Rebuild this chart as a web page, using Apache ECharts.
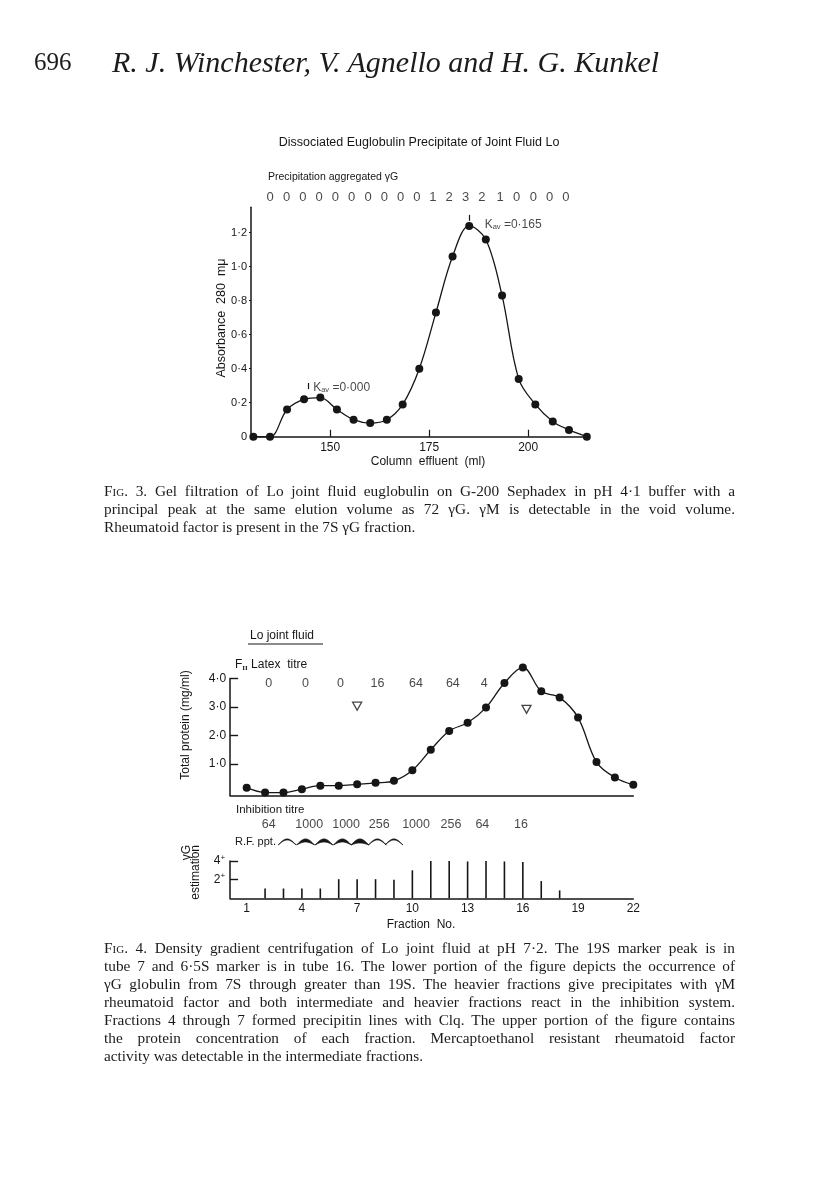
<!DOCTYPE html>
<html>
<head>
<meta charset="utf-8">
<script src="https://cdn.jsdelivr.net/npm/echarts@6.0.0/dist/echarts.min.js"></script>
<style>
  body { margin: 0; background: #fff; }
  #page { position: relative; width: 816px; height: 1190px; overflow: hidden; }
  #chart { position: absolute; left: 0; top: 0; width: 816px; height: 1190px; }
  .txt { position: absolute; font-family: "Liberation Serif", serif; color: #1b1b1b; }
  .cap { left: 104px; width: 631px; font-size: 15.3px; line-height: 18px; }
  .cap div { text-align: justify; text-align-last: justify; }
  .cap div.last { text-align-last: left; }
  .sc { font-variant: small-caps; }
</style>
</head>
<body>
<div id="page">
  <div id="chart"></div>
  <div class="txt" style="left:34px; top:48px; font-size:25px;">696</div>
  <div class="txt" style="left:112px; top:45px; font-size:30px; font-style:italic;">R. J. Winchester, V. Agnello and H. G. Kunkel</div>
  <div class="txt cap" style="top:482px;">
    <div><span class="sc">Fig</span>. 3. Gel filtration of Lo joint fluid euglobulin on G-200 Sephadex in pH 4·1 buffer with a</div>
    <div>principal peak at the same elution volume as 72 γG. γM is detectable in the void volume.</div>
    <div class="last">Rheumatoid factor is present in the 7S γG fraction.</div>
  </div>
  <div class="txt cap" style="top:939px;">
    <div><span class="sc">Fig</span>. 4. Density gradient centrifugation of Lo joint fluid at pH 7·2. The 19S marker peak is in</div>
    <div>tube 7 and 6·5S marker is in tube 16. The lower portion of the figure depicts the occurrence of</div>
    <div>γG globulin from 7S through greater than 19S. The heavier fractions give precipitates with γM</div>
    <div>rheumatoid factor and both intermediate and heavier fractions react in the inhibition system.</div>
    <div>Fractions 4 through 7 formed precipitin lines with Clq. The upper portion of the figure contains</div>
    <div>the protein concentration of each fraction. Mercaptoethanol resistant rheumatoid factor</div>
    <div class="last">activity was detectable in the intermediate fractions.</div>
  </div>
</div>
<script>
// Fig. 3 - gel filtration
const effluentMl = [130.6, 134.8, 139.1, 143.4, 147.5, 151.7, 155.9, 160.1, 164.3, 168.3, 172.5,
  176.7, 180.9, 185.1, 189.3, 193.4, 197.6, 201.8, 206.2, 210.3, 214.8];
const absorbance = [0, 0, 0.16, 0.22, 0.23, 0.16, 0.10, 0.08, 0.10, 0.19, 0.40,
  0.73, 1.06, 1.24, 1.16, 0.83, 0.34, 0.19, 0.09, 0.04, 0];
const precipMl = [134.8, 139.0, 143.1, 147.2, 151.3, 155.4, 159.6, 163.7, 167.8, 171.9,
  175.9, 180.0, 184.2, 188.3, 192.9, 197.1, 201.3, 205.4, 209.5];
const precipLabels = ['0', '0', '0', '0', '0', '0', '0', '0', '0', '0', '1', '2', '3', '2', '1', '0', '0', '0', '0'];
const xTicks3 = [150, 175, 200];
const yTicks3 = [0, 0.2, 0.4, 0.6, 0.8, 1.0, 1.2];

// Fig. 4 - density gradient
const fractions = [1, 2, 3, 4, 5, 6, 7, 8, 9, 10, 11, 12, 13, 14, 15, 16, 17, 18, 19, 20, 21, 22];
const protein = [0.17, 0, 0, 0.12, 0.24, 0.24, 0.29, 0.34, 0.41, 0.78, 1.50,
  2.16, 2.45, 2.98, 3.84, 4.39, 3.55, 3.33, 2.63, 1.07, 0.53, 0.27];
const markerFrac = [7, 16.2];
const markerProtein = [3.03, 2.92];
const latexFrac = [2.2, 4.2, 6.1, 8.1, 10.2, 12.2, 13.9];
const latexTitre = ['0', '0', '0', '16', '64', '64', '4'];
const inhibFrac = [2.2, 4.4, 6.4, 8.2, 10.2, 12.1, 13.8, 15.9];
const inhibTitre = ['64', '1000', '1000', '256', '1000', '256', '64', '16'];
const rfFrac = [3.2, 4.2, 5.2, 6.2, 7.15, 8.1, 9.0];
const rfStrength = [1, 3, 3, 3, 4, 1, 1];
const gammaG = [0, 1.05, 1.05, 1.05, 1.05, 2.05, 2.05, 2.05, 2, 3, 4, 4.05, 3.95, 4, 3.95, 3.9, 1.85, 0.85, 0, 0, 0, 0];
const xTicks4 = [1, 4, 7, 10, 13, 16, 19, 22];
const yTicks4 = [1, 2, 3, 4];
const yTicksG = [2, 4];

const INK = '#161616';
const FONT = 'Liberation Sans';
const dot = v => v === 0 ? '0' : v.toFixed(1).replace('.', '·');

const chart = echarts.init(document.getElementById('chart'));

const axisLine = { show: true, onZero: false, lineStyle: { color: INK, width: 1.5 } };

const option = {
  backgroundColor: '#fff',
  animation: false,
  textStyle: { fontFamily: FONT, color: INK },
  grid: [
    { left: 251, top: 207.2, width: 336.6, height: 229.5, outerBoundsMode: 'none' },
    { left: 230.1, top: 678.5, width: 403.2, height: 116.9, outerBoundsMode: 'none' },
    { left: 230.1, top: 861, width: 403.2, height: 37.3, outerBoundsMode: 'none' }
  ],
  xAxis: [
    {
      gridIndex: 0, type: 'value', min: 130, max: 215,
      axisLine, splitLine: { show: false },
      axisTick: { show: true, inside: true, length: 7, customValues: xTicks3, lineStyle: { color: INK, width: 1.2 } },
      axisLabel: { customValues: xTicks3, margin: 5, fontSize: 12, color: INK }
    },
    {
      gridIndex: 1, type: 'value', min: 0.1, max: 22,
      axisLine, splitLine: { show: false }, axisTick: { show: false }, axisLabel: { show: false }
    },
    {
      gridIndex: 2, type: 'value', min: 0.1, max: 22,
      axisLine, splitLine: { show: false }, axisTick: { show: false },
      axisLabel: { customValues: xTicks4, margin: 4, fontSize: 12, color: INK }
    }
  ],
  yAxis: [
    {
      gridIndex: 0, type: 'value', min: 0, max: 1.35,
      axisLine, splitLine: { show: false },
      axisTick: { show: true, length: 2, customValues: yTicks3.slice(1), lineStyle: { color: INK } },
      axisLabel: { customValues: yTicks3, margin: 4, fontSize: 11, color: INK, formatter: dot }
    },
    {
      gridIndex: 1, type: 'value', min: -0.1, max: 4,
      axisLine, splitLine: { show: false },
      axisTick: { show: true, inside: true, length: 8, customValues: yTicks4, lineStyle: { color: INK, width: 1.4 } },
      axisLabel: { customValues: yTicks4, margin: 4, fontSize: 12, color: INK, formatter: dot }
    },
    {
      gridIndex: 2, type: 'value', min: 0, max: 4,
      axisLine, splitLine: { show: false },
      axisTick: { show: true, inside: true, length: 8, customValues: yTicksG, lineStyle: { color: INK, width: 1.4 } },
      axisLabel: {
        customValues: yTicksG, margin: 5, fontSize: 12, color: INK,
        formatter: v => '{n|' + v + '}{p|+}',
        rich: { n: { fontSize: 12, color: INK }, p: { fontSize: 8, color: INK, padding: [0, 0, 7, 0] } }
      }
    }
  ],
  series: [
    {
      name: 'absorbance', type: 'line', xAxisIndex: 0, yAxisIndex: 0,
      data: effluentMl.map((m, i) => [m, absorbance[i]]),
      smooth: 0.35, clip: false, symbol: 'circle', symbolSize: 8,
      lineStyle: { color: INK, width: 1.3 }, itemStyle: { color: INK },
      markLine: {
        silent: true, symbol: 'none', label: { show: false },
        lineStyle: { color: INK, width: 1.2, type: 'solid' },
        data: [
          [{ coord: [185.1, 1.27] }, { coord: [185.1, 1.305] }],
          [{ coord: [144.5, 0.28] }, { coord: [144.5, 0.316] }]
        ]
      }
    },
    {
      name: 'precipitation', type: 'scatter', xAxisIndex: 0, yAxisIndex: 0,
      clip: false, silent: true, symbolSize: 1, itemStyle: { color: 'rgba(0,0,0,0)' },
      data: precipMl.map((m, i) => [m, 1.41, precipLabels[i]]),
      label: { show: true, position: 'inside', fontSize: 13, color: INK, formatter: p => p.value[2] }
    },
    {
      name: 'kav', type: 'scatter', xAxisIndex: 0, yAxisIndex: 0,
      clip: false, silent: true, symbolSize: 1, itemStyle: { color: 'rgba(0,0,0,0)' },
      data: [[189.0, 1.25, '0·165'], [145.7, 0.287, '0·000']],
      label: {
        show: true, position: 'inside', align: 'left', color: INK,
        formatter: p => '{k|K}{s|av}{k| =' + p.value[2] + '}',
        rich: { k: { fontSize: 12, color: INK }, s: { fontSize: 7.5, color: INK, padding: [5, 0, 0, 0] } }
      }
    },
    {
      name: 'protein', type: 'line', xAxisIndex: 1, yAxisIndex: 1,
      data: fractions.map((f, i) => [f, protein[i]]),
      smooth: 0.35, clip: false, symbol: 'circle', symbolSize: 8,
      lineStyle: { color: INK, width: 1.3 }, itemStyle: { color: INK }
    },
    {
      name: 'markers', type: 'scatter', xAxisIndex: 1, yAxisIndex: 1,
      clip: false, silent: true, symbol: 'triangle', symbolRotate: 180, symbolSize: [9, 8],
      itemStyle: { color: '#fff', borderColor: INK, borderWidth: 1.3 },
      data: markerFrac.map((f, i) => [f, markerProtein[i]])
    },
    {
      name: 'latex', type: 'scatter', xAxisIndex: 1, yAxisIndex: 1,
      clip: false, silent: true, symbolSize: 1, itemStyle: { color: 'rgba(0,0,0,0)' },
      data: latexFrac.map((f, i) => [f, 3.83, latexTitre[i]]),
      label: { show: true, position: 'inside', fontSize: 12.5, color: INK, formatter: p => p.value[2] }
    },
    {
      name: 'gammaG', type: 'bar', xAxisIndex: 2, yAxisIndex: 2,
      data: fractions.map((f, i) => [f, gammaG[i]]),
      barWidth: 1.6, itemStyle: { color: INK }
    },
    {
      name: 'inhibition', type: 'scatter', xAxisIndex: 2, yAxisIndex: 2,
      clip: false, silent: true, symbolSize: 1, itemStyle: { color: 'rgba(0,0,0,0)' },
      data: inhibFrac.map((f, i) => [f, 7.94, inhibTitre[i]]),
      label: { show: true, position: 'inside', fontSize: 12.5, color: INK, formatter: p => p.value[2] }
    },
    {
      name: 'rfppt', type: 'custom', xAxisIndex: 2, yAxisIndex: 2, clip: false, silent: true,
      data: rfFrac.map((f, i) => [f, rfStrength[i], 5.72]),
      renderItem: (params, api) => {
        const c = api.coord([api.value(0), api.value(2)]);
        const w = api.size([0.97, 0])[0];
        const h = 6, t = api.value(1), n = 16;
        const pts = [];
        for (let i = 0; i <= n; i++) {
          pts.push([c[0] - w / 2 + w * i / n, c[1] - h * Math.sin(Math.PI * i / n)]);
        }
        for (let i = n; i >= 0; i--) {
          pts.push([c[0] - w / 2 + w * i / n, c[1] - (h - t) * Math.sin(Math.PI * i / n)]);
        }
        return {
          type: 'polygon', shape: { points: pts },
          style: { fill: INK, stroke: INK, lineWidth: 0.8 }
        };
      }
    }
  ],
  graphic: [
    { type: 'text', x: 419, y: 143, style: { text: 'Dissociated Euglobulin Precipitate of Joint Fluid Lo', font: '12.5px "Liberation Sans"', fill: INK, align: 'center', verticalAlign: 'middle' } },
    { type: 'text', x: 268, y: 177, style: { text: 'Precipitation aggregated γG', font: '10.5px "Liberation Sans"', fill: INK, verticalAlign: 'middle' } },
    { type: 'text', x: 222, y: 318, rotation: Math.PI / 2, style: { text: 'Absorbance  280  mμ', font: '12.5px "Liberation Sans"', fill: INK, align: 'center', verticalAlign: 'middle' } },
    { type: 'text', x: 428, y: 462, style: { text: 'Column  effluent  (ml)', font: '12px "Liberation Sans"', fill: INK, align: 'center', verticalAlign: 'middle' } },
    { type: 'text', x: 250, y: 636, style: { text: 'Lo joint fluid', font: '12px "Liberation Sans"', fill: INK, verticalAlign: 'middle' } },
    { type: 'line', shape: { x1: 248, y1: 644, x2: 323, y2: 644 }, style: { stroke: INK, lineWidth: 1.2 } },
    {
      type: 'text', x: 235, y: 665,
      style: {
        text: '{f|F}{s|II} {t|Latex  titre}', fill: INK, verticalAlign: 'middle',
        rich: { f: { font: '12px "Liberation Sans"' }, s: { font: 'bold 7px "Liberation Serif"', padding: [6, 0, 0, 0] }, t: { font: '12px "Liberation Sans"' } }
      }
    },
    { type: 'text', x: 186, y: 725, rotation: Math.PI / 2, style: { text: 'Total protein (mg/ml)', font: '12px "Liberation Sans"', fill: INK, align: 'center', verticalAlign: 'middle' } },
    { type: 'text', x: 236, y: 810, style: { text: 'Inhibition titre', font: '11.5px "Liberation Sans"', fill: INK, verticalAlign: 'middle' } },
    { type: 'text', x: 235, y: 842, style: { text: 'R.F. ppt.', font: '11px "Liberation Sans"', fill: INK, verticalAlign: 'middle' } },
    { type: 'text', x: 187, y: 845, rotation: Math.PI / 2, style: { text: 'γG', font: '12px "Liberation Sans"', fill: INK, align: 'right', verticalAlign: 'middle' } },
    { type: 'text', x: 196, y: 845, rotation: Math.PI / 2, style: { text: 'estimation', font: '12px "Liberation Sans"', fill: INK, align: 'right', verticalAlign: 'middle' } },
    { type: 'text', x: 421, y: 925, style: { text: 'Fraction  No.', font: '12px "Liberation Sans"', fill: INK, align: 'center', verticalAlign: 'middle' } }
  ]
};

chart.setOption(option);
</script>
</body>
</html>
